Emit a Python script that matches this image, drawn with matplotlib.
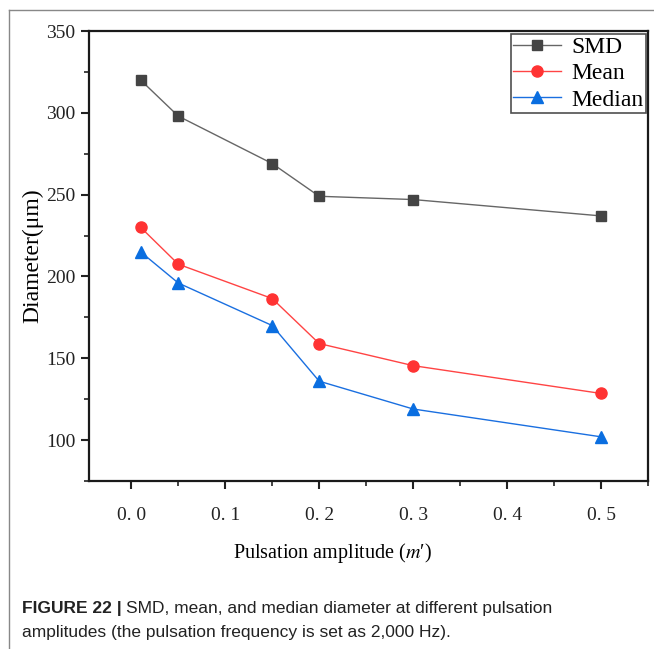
import matplotlib.pyplot as plt
from matplotlib.lines import Line2D
from matplotlib.ticker import MultipleLocator

amplitude = [0.01, 0.05, 0.15, 0.2, 0.3, 0.5]
smd = [320, 298, 269, 249, 247, 237]
mean = [230, 207.5, 186.5, 159, 145.5, 128.5]
median = [215, 196, 170, 136, 119, 102]

xticks = [0.0, 0.1, 0.2, 0.3, 0.4, 0.5]
xtick_labels = ["0. 0", "0. 1", "0. 2", "0. 3", "0. 4", "0. 5"]
yticks = [100, 150, 200, 250, 300, 350]

plt.rcParams['font.family'] = ['Liberation Serif', 'DejaVu Serif']
plt.rcParams['mathtext.fontset'] = 'stix'

fig = plt.figure(figsize=(6.54, 6.49), dpi=100)
ax = fig.add_axes([89 / 654, 1 - 481 / 649, (648 - 89) / 654, (481 - 31) / 649])

ax.plot(amplitude, smd, color='#666666', lw=1, marker='s', ms=7.5,
        mfc='#444444', mec='#444444', label='SMD')
ax.plot(amplitude, mean, color='#ff4444', lw=1, marker='o', ms=8,
        mfc='#ff3333', mec='#ff3333', label='Mean')
ax.plot(amplitude, median, color='#1a6fe0', lw=1, marker='^', ms=8.5,
        mfc='#0a6ee0', mec='#0a6ee0', label='Median')

ax.set_xlim(-0.045, 0.55)
ax.set_ylim(75, 350)
ax.set_xticks(xticks)
ax.set_xticklabels(xtick_labels)
ax.set_yticks(yticks)
ax.xaxis.set_minor_locator(MultipleLocator(0.05))
ax.yaxis.set_minor_locator(MultipleLocator(25))
ax.tick_params(which='major', direction='out', length=6, width=1.5,
               labelsize=14, pad=13, colors='#222222')
ax.tick_params(which='minor', direction='out', length=3.5, width=1.2,
               colors='#222222')
ax.tick_params(axis='y', pad=4)
for s in ax.spines.values():
    s.set_linewidth(1.6)
    s.set_color('#1a1a1a')

ax.set_ylabel('Diameter(\u03bcm)', fontsize=17)
ax.yaxis.set_label_coords((43 - 89) / 559, 0.5)
ax.set_xlabel("Pulsation amplitude ($m$\u2032)", fontsize=14.5)
ax.xaxis.set_label_coords((332 - 89) / 559, -60 / 450)

leg = ax.legend(loc='upper right', fontsize=17, frameon=True, fancybox=False,
                shadow=False, borderpad=0.1, handlelength=2.0,
                handletextpad=0.45, labelspacing=0.2,
                bbox_to_anchor=(1.0, 0.998), borderaxespad=0.1)
leg.get_frame().set_edgecolor('#222222')
leg.get_frame().set_linewidth(1.2)

# page frame of the figure panel
fig.add_artist(Line2D([9 / 654, 9 / 654], [0, 1 - 10 / 649], color='#888888', lw=1))
fig.add_artist(Line2D([9 / 654, 1], [1 - 10 / 649, 1 - 10 / 649], color='#888888', lw=1))

cap_y = 1 - 608 / 649
t1 = fig.text(22 / 654, cap_y, 'FIGURE 22 |', family='Liberation Sans',
              fontweight='bold', fontsize=12.5, va='center', color='#222222')
fig.canvas.draw()
bb = t1.get_window_extent()
fig.text(bb.x1 / 654 + 4 / 654, cap_y,
         'SMD, mean, and median diameter at different pulsation',
         family='Liberation Sans', fontsize=12.5, va='center', color='#222222')
fig.text(22 / 654, 1 - 632 / 649,
         'amplitudes (the pulsation frequency is set as 2,000 Hz).',
         family='Liberation Sans', fontsize=12.5, va='center', color='#222222')

fig.savefig('out.png', dpi=100)
